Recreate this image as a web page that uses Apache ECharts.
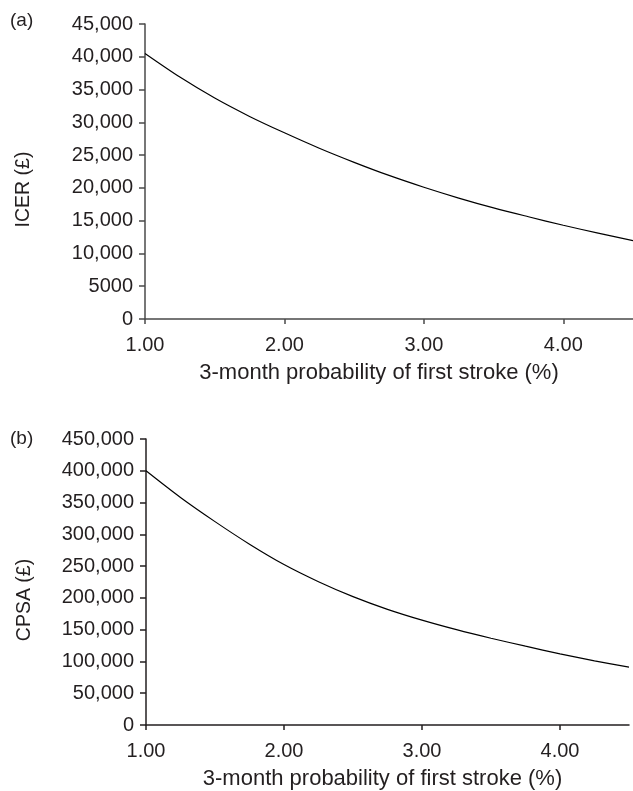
<!DOCTYPE html>
<html>
<head>
<meta charset="utf-8">
<script src="https://cdn.jsdelivr.net/npm/echarts@6/dist/echarts.min.js"></script>
<style>
  html, body { margin: 0; padding: 0; background: #fff; }
  #chart { width: 633px; height: 791px; }
</style>
</head>
<body>
<div id="chart"></div>
<script>
// 3-month probability of first stroke (%)
const probability = [1.00, 1.25, 1.50, 1.75, 2.00, 2.25, 2.50, 2.75, 3.00, 3.25, 3.50, 3.75, 4.00, 4.25, 4.50];
// (a) incremental cost-effectiveness ratio, £
const icer = [40500, 36900, 33700, 30900, 28400, 26050, 23900, 21900, 20100, 18450, 16950, 15600, 14300, 13100, 11950];
// (b) cost per stroke avoided, £
const cpsa = [400000, 358000, 320000, 284500, 252500, 225500, 202000, 182000, 165000, 150000, 136500, 124000, 112000, 101000, 91000];
// x-axis tick values
const xTicks = [1, 2, 3, 4];

const FONT = 'Liberation Sans, Arial, Helvetica, sans-serif';
const TEXT = '#231f20';

function fmtMoney(v) {
  return v >= 10000 ? v.toLocaleString('en-US') : String(v);
}

function pairs(ys) {
  return probability.map((x, i) => [x, ys[i]]);
}

function xAxisFor(gridIndex, axisColor, namePad) {
  return {
    type: 'value', gridIndex, min: 1, max: 4.5, interval: 1,
    name: '3-month probability of first stroke (%)',
    nameLocation: 'middle', nameGap: 43,
    nameTextStyle: { fontFamily: FONT, fontSize: 22, color: TEXT, padding: namePad },
    axisLine: { show: true, onZero: false, lineStyle: { color: axisColor, width: 1.5 } },
    axisTick: { show: true, length: 5, customValues: xTicks, lineStyle: { color: axisColor, width: 1.5 } },
    axisLabel: { customValues: xTicks, margin: 16, fontFamily: FONT, fontSize: 20, color: TEXT,
                 formatter: v => v.toFixed(2) },
    splitLine: { show: false }
  };
}

function yAxisFor(gridIndex, name, max, step, axisColor) {
  return {
    type: 'value', gridIndex, min: 0, max, interval: step,
    name, nameLocation: 'middle', nameGap: 111,
    nameTextStyle: { fontFamily: FONT, fontSize: 19.5, color: TEXT, padding: [0, 36, 0, 0] },
    axisLine: { show: true, lineStyle: { color: axisColor, width: 1.5 } },
    axisTick: { show: true, length: 6, lineStyle: { color: axisColor, width: 1.5 } },
    axisLabel: { margin: 12, fontFamily: FONT, fontSize: 20, color: TEXT, formatter: fmtMoney },
    splitLine: { show: false }
  };
}

const chart = echarts.init(document.getElementById('chart'), null, { renderer: 'canvas' });
chart.setOption({
  animation: false,
  backgroundColor: '#fff',
  grid: [
    { left: 145, top: 24, width: 493, height: 295 },
    { left: 146, top: 439, width: 483, height: 287 }
  ],
  xAxis: [xAxisFor(0, '#4a4a4a', [0, 20, 0, 0]), xAxisFor(1, '#231f20', [0, 10, 0, 0])],
  yAxis: [
    yAxisFor(0, 'ICER (£)', 45000, 5000, '#4a4a4a'),
    yAxisFor(1, 'CPSA (£)', 450000, 50000, '#231f20')
  ],
  graphic: [
    { type: 'text', left: 10, top: 11, style: { text: '(a)', font: '19px ' + FONT, fill: TEXT } },
    { type: 'text', left: 10, top: 429, style: { text: '(b)', font: '19px ' + FONT, fill: TEXT } }
  ],
  series: [
    { type: 'line', xAxisIndex: 0, yAxisIndex: 0, data: pairs(icer), smooth: 0.3, showSymbol: false,
      lineStyle: { color: '#000', width: 1.2 } },
    { type: 'line', xAxisIndex: 1, yAxisIndex: 1, data: pairs(cpsa), smooth: 0.3, showSymbol: false,
      lineStyle: { color: '#000', width: 1.2 } }
  ]
});
</script>
</body>
</html>
